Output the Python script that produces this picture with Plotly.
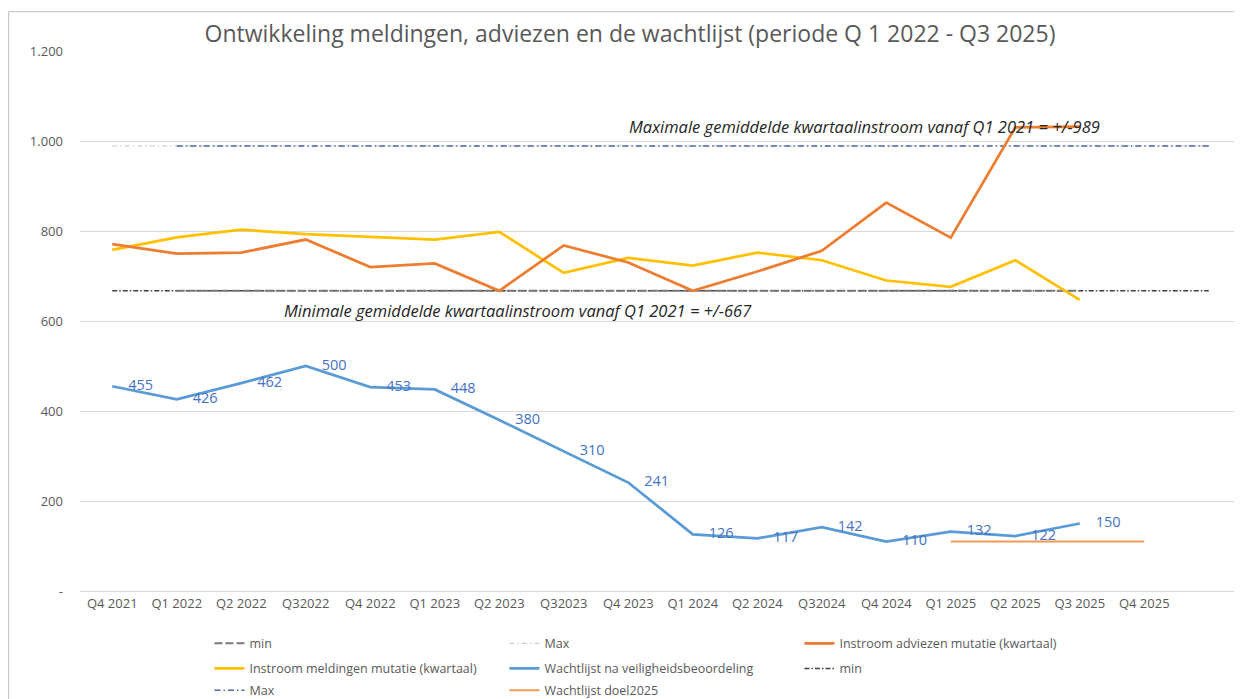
import plotly.graph_objects as go

categories = ["Q4 2021", "Q1 2022", "Q2 2022", "Q32022", "Q4 2022", "Q1 2023", "Q2 2023",
              "Q32023", "Q4 2023", "Q1 2024", "Q2 2024", "Q32024", "Q4 2024", "Q1 2025",
              "Q2 2025", "Q3 2025", "Q4 2025", ""]
x_idx = list(range(len(categories)))

adviezen = [771, 750, 752, 781, 720, 728, 667, 768, 730, 667, 710, 756, 863, 785, 1030, 1032]
meldingen = [758, 786, 803, 793, 787, 781, 798, 707, 740, 723, 752, 735, 690, 676, 735, 647]
wachtlijst = [455, 426, 462, 500, 453, 448, 380, 310, 241, 126, 117, 142, 110, 132, 122, 150]
doel2025 = [110, 110, 110, 110]
doel_start = 13
min_value = 667
max_value = 989

y_tickvals = [0, 200, 400, 600, 800, 1000, 1200]
y_ticktext = ["-", "200", "400", "600", "800", "1.000", "1.200"]

FONT = "Open Sans"
GREY = "#595959"

fig = go.Figure()

# drawn first (below): black dash-dot min, light grey Max
fig.add_trace(go.Scatter(x=x_idx, y=[min_value] * len(x_idx), mode="lines", name="min",
                         line=dict(color="#404040", width=1.5, dash="5px,2px,1.5px,2px"),
                         legend="legend2", legendrank=3))
fig.add_trace(go.Scatter(x=x_idx, y=[max_value] * len(x_idx), mode="lines", name="Max",
                         line=dict(color="#CFCFCF", width=1.25, dash="5px,3px,1.5px,3px"),
                         legend="legend", legendrank=2))
fig.add_trace(go.Scatter(x=x_idx[1:], y=[max_value] * (len(x_idx) - 1), mode="lines", name="Max",
                         line=dict(color="#4A6AA8", width=1.5, dash="6px,3px,1.5px,3px"),
                         legend="legend3", legendrank=1))
fig.add_trace(go.Scatter(x=x_idx[1:16], y=[min_value] * 15, mode="lines", name="min",
                         line=dict(color="#7A7A7A", width=2, dash="8px,3px"),
                         legend="legend", legendrank=1))
fig.add_trace(go.Scatter(x=x_idx[:len(meldingen)], y=meldingen, mode="lines",
                         name="Instroom meldingen mutatie (kwartaal)",
                         line=dict(color="#FFC000", width=2.75), legend="legend2", legendrank=1))
fig.add_trace(go.Scatter(x=x_idx[:len(adviezen)], y=adviezen, mode="lines",
                         name="Instroom adviezen mutatie (kwartaal)",
                         line=dict(color="#ED7D31", width=2.75), legend="legend", legendrank=3))
fig.add_trace(go.Scatter(x=x_idx[:len(wachtlijst)], y=wachtlijst, mode="lines",
                         name="Wachtlijst na veiligheidsbeoordeling",
                         line=dict(color="#5B9BD5", width=2.75), legend="legend2", legendrank=2))
fig.add_trace(go.Scatter(x=x_idx[:len(wachtlijst)], y=wachtlijst, mode="markers+text",
                         text=[str(v) for v in wachtlijst], textposition="middle right",
                         textfont=dict(family=FONT, size=14.5, color="#4472C4"),
                         marker=dict(size=24, opacity=0, color="#5B9BD5"),
                         showlegend=False, hoverinfo="skip"))
fig.add_trace(go.Scatter(x=x_idx[doel_start:doel_start + len(doel2025)], y=doel2025, mode="lines",
                         name="Wachtlijst doel2025",
                         line=dict(color="#F39A55", width=2.0), legend="legend3", legendrank=2))

legend_common = dict(orientation="h", xanchor="left", yanchor="middle",
                     font=dict(family=FONT, size=12.5, color=GREY), entrywidth=250,
                     bgcolor="rgba(0,0,0,0)", traceorder="normal")
LX = 0.1115

# the page places the figure 8px from the top-left corner; positions below account for it
PL, PT, PW, PH = 72.3, 43.3, 1161, 540

fig.update_layout(
    width=1242, height=699,
    margin=dict(l=72, r=9, t=43, b=116, autoexpand=False),
    paper_bgcolor="white", plot_bgcolor="white",
    title=dict(text="Ontwikkeling meldingen, adviezen en de wachtlijst (periode Q 1 2022 - Q3 2025)",
               x=622 / 1242, xref="container", xanchor="center",
               y=1 - 26 / 699, yref="container", yanchor="middle",
               font=dict(family=FONT, size=23, color=GREY)),
    xaxis=dict(range=[-0.5, 17.5], tickvals=x_idx[:17], ticktext=categories[:17],
               showgrid=False, zeroline=False, showline=True, linecolor="#D9D9D9",
               tickfont=dict(family=FONT, size=13, color=GREY), ticks="", automargin=False),
    yaxis=dict(range=[0, 1200], tickvals=y_tickvals, ticktext=y_ticktext,
               showgrid=True, gridcolor="#D9D9D9", gridwidth=1, zeroline=False,
               tickfont=dict(family=FONT, size=13, color=GREY), ticks="",
               ticklabelstandoff=16, automargin=False),
    legend=dict(x=LX, y=-0.0976, **legend_common),
    legend2=dict(x=LX, y=-0.144, **legend_common),
    legend3=dict(x=LX, y=-0.1846, **legend_common),
    annotations=[
        dict(text="<i>Maximale gemiddelde kwartaalinstroom vanaf Q1 2021 = +/-989</i>",
             xref="paper", x=(619 - PL) / PW, yref="y", y=1032,
             xanchor="left", yanchor="middle", showarrow=False,
             font=dict(family=FONT, size=16.5, color="#262626")),
        dict(text="<i>Minimale gemiddelde kwartaalinstroom vanaf Q1 2021 = +/-667</i>",
             xref="paper", x=(274.6 - PL) / PW, yref="y", y=623,
             xanchor="left", yanchor="middle", showarrow=False,
             font=dict(family=FONT, size=16.5, color="#262626")),
    ],
    shapes=[dict(type="rect", xref="paper", yref="paper",
                 x0=(1 - PL) / PW, x1=1.2, y0=-0.4, y1=(PT + PH - 4) / PH,
                 line=dict(color="#BFBFBF", width=1), fillcolor="rgba(0,0,0,0)", layer="below")],
    showlegend=True,
)

fig.write_html("out.html")
